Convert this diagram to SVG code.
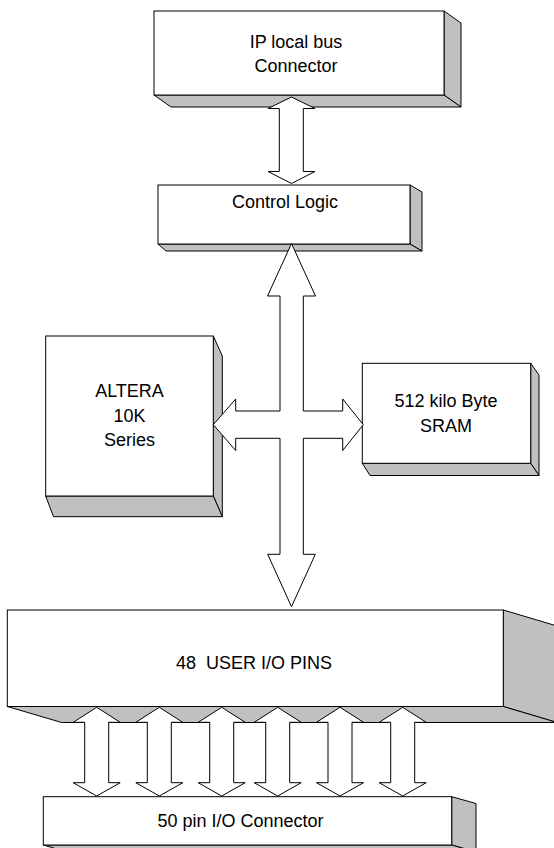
<svg xmlns="http://www.w3.org/2000/svg" width="554" height="848" viewBox="0 0 554 848">
<style>
.front{fill:#ffffff;stroke:#000000;stroke-width:1}
.face{fill:#c0c0c0;stroke:#000000;stroke-width:1;stroke-linejoin:round}
.arrow{fill:#ffffff;stroke:#000000;stroke-width:1;stroke-linejoin:miter}
.lbl{font-family:"Liberation Sans",Arial,sans-serif;font-size:18px;fill:#000000;text-anchor:middle}
</style>
<rect width="554" height="848" fill="#ffffff"/>
<g id="ip-bus-connector">
<polygon class="face" points="444,11 461,23 461,107 444,95"/>
<polygon class="face" points="154,95 444,95 461,107 171,107"/>
<rect class="front" x="154" y="11" width="290" height="84"/>
<text class="lbl" x="296" y="47.5">IP local bus</text>
<text class="lbl" x="296" y="71.7">Connector</text>
</g>
<g id="control-logic">
<polygon class="face" points="410,185 422,192 422,251 410,244"/>
<polygon class="face" points="158,244 410,244 422,251 166,251"/>
<rect class="front" x="158" y="185" width="252" height="59"/>
<text class="lbl" x="285" y="208.3">Control Logic</text>
</g>
<g id="altera">
<polygon class="face" points="213.3,336 222.3,356 222.3,516.7 213.3,496"/>
<polygon class="face" points="45.7,496 213.3,496 222.3,516.7 53.5,516.7"/>
<rect class="front" x="45.7" y="336" width="167.6" height="160"/>
<text class="lbl" x="129.5" y="397.3">ALTERA</text>
<text class="lbl" x="129.5" y="421.7">10K</text>
<text class="lbl" x="129.5" y="446">Series</text>
</g>
<g id="sram">
<polygon class="face" points="530.7,363.3 539,375 539,475.5 530.7,463.3"/>
<polygon class="face" points="362.3,463.3 530.7,463.3 539,475.5 370,475.5"/>
<rect class="front" x="362.3" y="363.3" width="168.4" height="100"/>
<text class="lbl" x="446" y="407.3">512 kilo Byte</text>
<text class="lbl" x="446" y="431.7">SRAM</text>
</g>
<g id="user-io-pins">
<polygon class="face" points="503.3,610 557,626 557,722.5 503.3,706.5"/>
<polygon class="face" points="7.3,706.5 503.3,706.5 557,722.5 61.7,722.5"/>
<rect class="front" x="7.3" y="610" width="496" height="96.5"/>
<text class="lbl" x="254" y="669" xml:space="preserve">48  USER I/O PINS</text>
</g>
<g id="io-connector">
<polygon class="face" points="451.7,796.7 476,803.5 476,852 451.7,845"/>
<polygon class="face" points="43.3,845 451.7,845 476,852 67,852"/>
<rect class="front" x="43.3" y="796.7" width="408.4" height="48.3"/>
<text class="lbl" x="240.5" y="826.7">50 pin I/O Connector</text>
</g>
<g id="connectors">
<polygon class="arrow" points="291.5,97 315,108.5 303.3,108.5 303.3,171.5 315,171.5 291.5,183.5 268,171.5 279.3,171.5 279.3,108.5 268,108.5"/>
<polygon class="arrow" points="291.5,243.5 315.5,296 303.3,296 303.3,411 342.7,411 342.7,399 363.3,424.7 342.7,450.5 342.7,438.3 303.3,438.3 303.3,554.3 315.3,554.3 291.5,606.7 267.7,554.3 280,554.3 280,438.3 235.7,438.3 235.7,450.5 213.3,424.7 235.7,399 235.7,411 280,411 280,296 267.5,296"/>
<g transform="translate(96.7,0)"><polygon id="io1" class="arrow" points="0,707.3 23.5,722.3 12,722.3 12,782.7 23.5,782.7 0,796 -23.5,782.7 -12,782.7 -12,722.3 -23.5,722.3"/></g>
<g transform="translate(159.3,0)"><polygon class="arrow" points="0,707.3 23.5,722.3 12,722.3 12,782.7 23.5,782.7 0,796 -23.5,782.7 -12,782.7 -12,722.3 -23.5,722.3"/></g>
<g transform="translate(221.7,0)"><polygon class="arrow" points="0,707.3 23.5,722.3 12,722.3 12,782.7 23.5,782.7 0,796 -23.5,782.7 -12,782.7 -12,722.3 -23.5,722.3"/></g>
<g transform="translate(277.7,0)"><polygon class="arrow" points="0,707.3 23.5,722.3 12,722.3 12,782.7 23.5,782.7 0,796 -23.5,782.7 -12,782.7 -12,722.3 -23.5,722.3"/></g>
<g transform="translate(340,0)"><polygon class="arrow" points="0,707.3 23.5,722.3 12,722.3 12,782.7 23.5,782.7 0,796 -23.5,782.7 -12,782.7 -12,722.3 -23.5,722.3"/></g>
<g transform="translate(402.7,0)"><polygon class="arrow" points="0,707.3 23.5,722.3 12,722.3 12,782.7 23.5,782.7 0,796 -23.5,782.7 -12,782.7 -12,722.3 -23.5,722.3"/></g>
</g>
</svg>
